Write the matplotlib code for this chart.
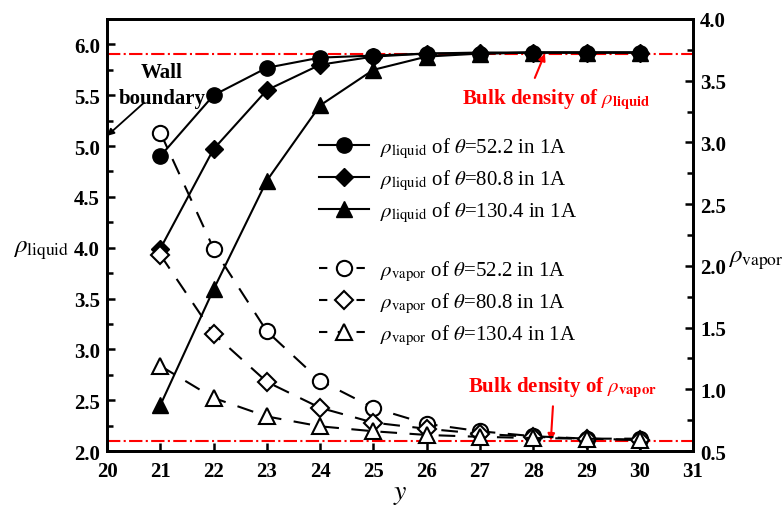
import matplotlib.pyplot as plt
from matplotlib.lines import Line2D

plt.rcParams['font.family'] = 'Liberation Serif'
plt.rcParams['mathtext.fontset'] = 'stix'

# y position (lattice units)
y_pos = [21, 22, 23, 24, 25, 26, 27, 28, 29, 30]

# liquid density (left axis)
liq_522 = [4.90, 5.50, 5.77, 5.87, 5.89, 5.91, 5.91, 5.92, 5.92, 5.92]
liq_808 = [3.99, 4.97, 5.55, 5.80, 5.88, 5.91, 5.92, 5.92, 5.92, 5.92]
liq_1304 = [2.45, 3.59, 4.66, 5.40, 5.75, 5.88, 5.91, 5.92, 5.92, 5.92]

# vapor density (right axis)
vap_522 = [3.08, 2.14, 1.47, 1.07, 0.85, 0.72, 0.66, 0.62, 0.60, 0.60]
vap_808 = [2.09, 1.45, 1.06, 0.85, 0.73, 0.68, 0.64, 0.615, 0.60, 0.59]
vap_1304 = [1.19, 0.93, 0.78, 0.70, 0.66, 0.63, 0.615, 0.605, 0.60, 0.59]

bulk_liquid = 5.91
bulk_vapor = 2.10  # in left-axis units

fig = plt.figure(figsize=(7.84, 5.06), dpi=100)
ax = fig.add_axes([0.1365, 0.1067, 0.7475, 0.8538])
ax2 = ax.twinx()

ms = 11
dash = (0, (8, 6))
ax.plot(y_pos, liq_522, 'k-', marker='o', ms=ms, lw=1.5)
ax.plot(y_pos, liq_808, 'k-', marker='D', ms=ms - 1.5, lw=1.5)
ax.plot(y_pos, liq_1304, 'k-', marker='^', ms=ms, lw=1.5)
ax2.plot(y_pos, vap_522, color='k', ls=dash, marker='o', ms=ms, mfc='white', mew=1.5, lw=1.5)
ax2.plot(y_pos, vap_808, color='k', ls=dash, marker='D', ms=ms - 1.5, mfc='white', mew=1.5, lw=1.5)
ax2.plot(y_pos, vap_1304, color='k', ls=dash, marker='^', ms=ms, mfc='white', mew=1.5, lw=1.5)

ax.axhline(bulk_liquid, color='red', ls='-.', lw=1.5, zorder=0)
ax.axhline(bulk_vapor, color='red', ls='-.', lw=1.5, zorder=0)

ax.set_xlim(20, 31)
ax.set_ylim(2.0, 6.25)
ax2.set_ylim(0.5, 4.0)
ax.set_xticks(range(20, 32))
ax.set_yticks([2.0, 2.5, 3.0, 3.5, 4.0, 4.5, 5.0, 5.5, 6.0])
ax.set_yticks([2.25, 2.75, 3.25, 3.75, 4.25, 4.75, 5.25, 5.75], minor=True)
ax2.set_yticks([0.5, 1.0, 1.5, 2.0, 2.5, 3.0, 3.5, 4.0])
ax2.set_yticks([0.75, 1.25, 1.75, 2.25, 2.75, 3.25, 3.75], minor=True)
ax.set_yticklabels([f'{v:.1f}' for v in ax.get_yticks()])
ax2.set_yticklabels([f'{v:.1f}' for v in ax2.get_yticks()])

for a in (ax, ax2):
    a.tick_params(which='major', direction='in', length=6, width=1.8, labelsize=15)
    a.tick_params(which='minor', direction='in', length=4, width=1.8)
    for lab in a.get_xticklabels() + a.get_yticklabels():
        lab.set_fontweight('bold')
    for s in a.spines.values():
        s.set_linewidth(2)
ax.tick_params(axis='x', pad=7)
ax.tick_params(axis='y', pad=5)
ax2.tick_params(axis='y', pad=5)

ax.set_xlabel('$y$', fontsize=20, fontweight='bold', labelpad=0)
fig.text(0.016, 0.505, r'$\rho_{\mathrm{liquid}}$', fontsize=18, va='center', ha='left')
fig.text(0.929, 0.485, r'$\rho_{\mathrm{vapor}}$', fontsize=18, va='center', ha='left')

# annotations
ax.text(21.03, 5.6, 'Wall\nboundary', fontsize=15, fontweight='bold',
        ha='center', va='center', linespacing=1.4)
ax.annotate('', xy=(20, 5.1), xytext=(20.68, 5.42),
            arrowprops=dict(arrowstyle='-|>', color='k', lw=1.3, shrinkA=0, shrinkB=0))
ax.text(28.43, 5.47, r'Bulk density of $\rho_{\mathbf{liquid}}$', fontsize=15, fontweight='bold',
        color='red', ha='center', va='center')
ax.annotate('', xy=(28.22, bulk_liquid), xytext=(28.03, 5.67),
            arrowprops=dict(arrowstyle='-|>', color='red', lw=1.5, shrinkA=0, shrinkB=0))
ax.text(28.55, 2.63, r'Bulk density of $\rho_{\mathbf{vapor}}$', fontsize=15, fontweight='bold',
        color='red', ha='center', va='center')
ax.annotate('', xy=(28.33, bulk_vapor), xytext=(28.37, 2.44),
            arrowprops=dict(arrowstyle='-|>', color='red', lw=1.5, shrinkA=0, shrinkB=0))

# legend
handles = [
    Line2D([], [], color='k', marker='o', ms=ms, lw=1.5),
    Line2D([], [], color='k', marker='D', ms=ms - 1.5, lw=1.5),
    Line2D([], [], color='k', marker='^', ms=ms, lw=1.5),
    Line2D([], [], color='none'),
    Line2D([], [], color='k', ls=(0, (4, 5)), marker='o', ms=ms, mfc='white', mew=1.5, lw=1.5),
    Line2D([], [], color='k', ls=(0, (4, 5)), marker='D', ms=ms - 1.5, mfc='white', mew=1.5, lw=1.5),
    Line2D([], [], color='k', ls=(0, (4, 5)), marker='^', ms=ms, mfc='white', mew=1.5, lw=1.5),
]
labels = [
    r'$\rho_{\mathrm{liquid}}$ of $\theta$=52.2 in 1A',
    r'$\rho_{\mathrm{liquid}}$ of $\theta$=80.8 in 1A',
    r'$\rho_{\mathrm{liquid}}$ of $\theta$=130.4 in 1A',
    '',
    r'$\rho_{\mathrm{vapor}}$ of $\theta$=52.2 in 1A',
    r'$\rho_{\mathrm{vapor}}$ of $\theta$=80.8 in 1A',
    r'$\rho_{\mathrm{vapor}}$ of $\theta$=130.4 in 1A',
]
ax.legend(handles, labels, loc='upper left', bbox_to_anchor=(0.33, 0.772), frameon=False,
          fontsize=15, handlelength=2.4, handletextpad=0.5, labelspacing=0.37)

fig.savefig('out.png', dpi=100)
